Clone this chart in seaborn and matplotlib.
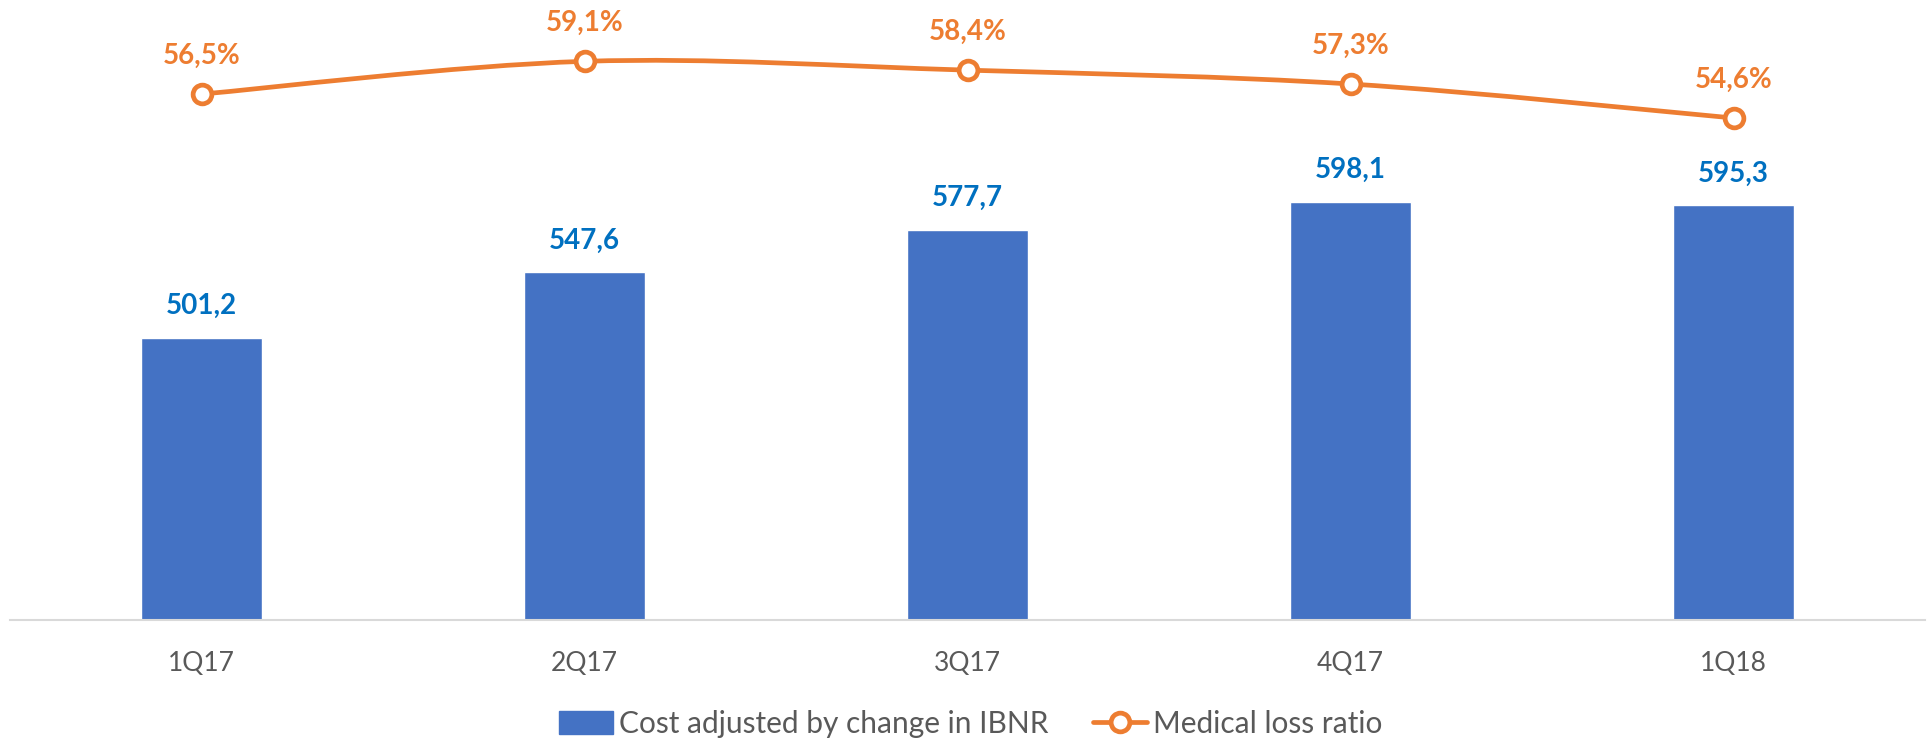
import numpy as np
import pandas as pd
import seaborn as sns
import matplotlib.pyplot as plt
from matplotlib.path import Path
from matplotlib.patches import PathPatch, Patch
from matplotlib.lines import Line2D

# chart data
quarters = ['1Q17', '2Q17', '3Q17', '4Q17', '1Q18']
cost_ibnr = [501.2, 547.6, 577.7, 598.1, 595.3]
loss_ratio = [56.5, 59.1, 58.4, 57.3, 54.6]

BLUE = '#4472C4'
ORANGE = '#ED7D31'
LABEL_BLUE = '#0070C0'
GREY = '#595959'

sns.set_theme(style='white')
plt.rcParams['font.family'] = ['Lato', 'DejaVu Sans']

df = pd.DataFrame({'Quarter': quarters, 'Cost': cost_ibnr, 'MLR': loss_ratio})

fig = plt.figure(figsize=(19.3, 7.41), dpi=100)
ax = fig.add_axes([10 / 1930, 121 / 741, 1915 / 1930, 600 / 741])

sns.barplot(data=df, x='Quarter', y='Cost', color=BLUE, width=0.316,
            saturation=1, ax=ax)
ax.set_xlim(-0.5, 4.5)
ax.set_ylim(300, 727.4)

for i, v in enumerate(cost_ibnr):
    ax.annotate(f'{v:.1f}'.replace('.', ','), (i, v), xytext=(0, 32),
                textcoords='offset pixels', ha='center', va='center',
                fontsize=20, fontweight='bold', color=LABEL_BLUE)

# line on secondary axis
ax2 = ax.twinx()
ax2.set_ylim(14.76, 62.38)
x = np.arange(len(loss_ratio))
y = np.array(loss_ratio)

# smoothed line (Excel-like) built as bezier path through the data points
verts = [(x[0], y[0])]
codes = [Path.MOVETO]
for i in range(len(x) - 1):
    p0 = (x[max(i - 1, 0)], y[max(i - 1, 0)])
    p1 = (x[i], y[i])
    p2 = (x[i + 1], y[i + 1])
    p3 = (x[min(i + 2, len(x) - 1)], y[min(i + 2, len(x) - 1)])
    c1 = (p1[0] + (p2[0] - p0[0]) / 6, p1[1] + (p2[1] - p0[1]) / 6)
    c2 = (p2[0] - (p3[0] - p1[0]) / 6, p2[1] - (p3[1] - p1[1]) / 6)
    verts += [c1, c2, p2]
    codes += [Path.CURVE4] * 3
ax2.add_patch(PathPatch(Path(verts, codes), fill=False, edgecolor=ORANGE,
                        lw=3.4, capstyle='round', zorder=3))

sns.lineplot(data=df, x=x, y='MLR', ax=ax2, linestyle='none', marker='o',
             markersize=13.5, markerfacecolor='white', markeredgecolor=ORANGE,
             markeredgewidth=3.4, zorder=4)

for i, v in enumerate(loss_ratio):
    ax2.annotate(f'{v:.1f}%'.replace('.', ','), (i, v), xytext=(0, 38),
                 textcoords='offset pixels', ha='center', va='center',
                 fontsize=20, fontweight='bold', color=ORANGE)

# axes styling
for a in (ax, ax2):
    for s in ['top', 'left', 'right']:
        a.spines[s].set_visible(False)
    a.set_ylabel('')
    a.set_yticks([])
ax2.spines['bottom'].set_visible(False)
ax.spines['bottom'].set_color('#D9D9D9')
ax.spines['bottom'].set_linewidth(1.5)
ax.set_xlabel('')
ax.tick_params(axis='x', length=0, pad=22, labelsize=19, labelcolor=GREY)
ax2.set_xlim(-0.5, 4.5)

handles = [
    Patch(facecolor=BLUE, edgecolor=BLUE),
    Line2D([0], [0], color=ORANGE, lw=3.4, marker='o', markersize=13.5,
           markerfacecolor='white', markeredgecolor=ORANGE, markeredgewidth=3.4),
]
fig.legend(handles, ['Cost adjusted by change in IBNR', 'Medical loss ratio'],
           loc='center', bbox_to_anchor=(0.503, 0.023), ncol=2, frameon=False,
           fontsize=21.5, labelcolor=GREY, handlelength=1.8, handleheight=0.8,
           handletextpad=0.2, columnspacing=1.5)

fig.savefig('out.png', dpi=100)
